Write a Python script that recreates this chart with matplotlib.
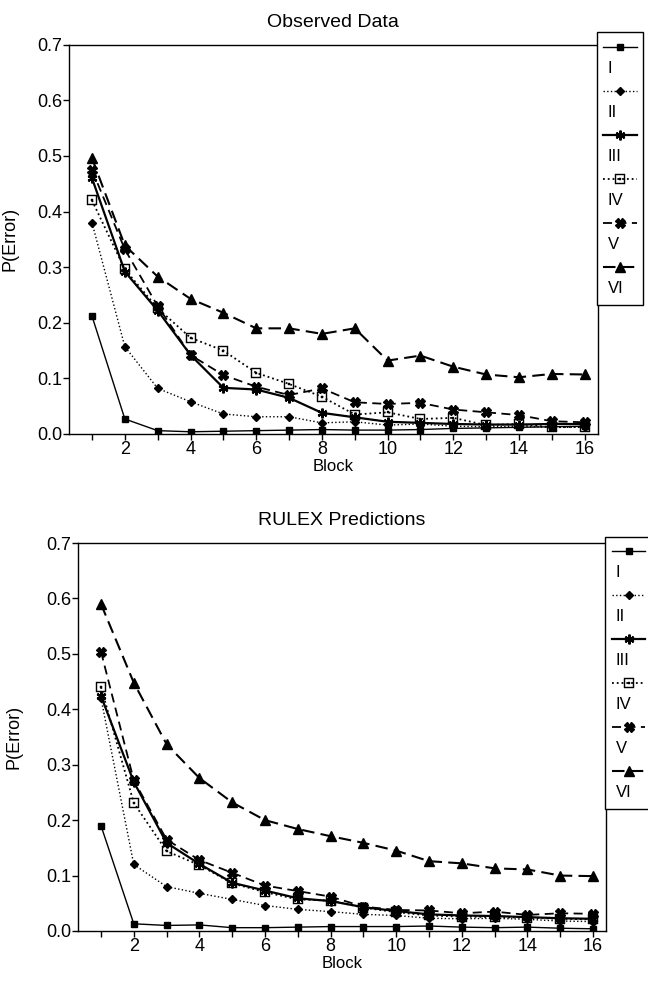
import numpy as np
import matplotlib
matplotlib.use('Agg')
import matplotlib.pyplot as plt
from matplotlib.legend_handler import HandlerLine2D
from matplotlib.text import Text

plt.rcParams['font.family'] = ['Liberation Sans', 'DejaVu Sans']

blocks = np.arange(1, 17)
names = ['I', 'II', 'III', 'IV', 'V', 'VI']

# Observed Data (P(Error) per block)
obs_I = [0.212, 0.027, 0.006, 0.004, 0.005, 0.006, 0.007, 0.008, 0.007, 0.007, 0.008, 0.010, 0.011, 0.012, 0.013, 0.014]
obs_II = [0.380, 0.157, 0.082, 0.058, 0.036, 0.031, 0.031, 0.020, 0.022, 0.016, 0.018, 0.014, 0.013, 0.014, 0.012, 0.012]
obs_III = [0.460, 0.292, 0.222, 0.142, 0.083, 0.080, 0.065, 0.038, 0.030, 0.022, 0.020, 0.018, 0.017, 0.017, 0.018, 0.018]
obs_IV = [0.420, 0.296, 0.226, 0.173, 0.150, 0.110, 0.090, 0.067, 0.035, 0.039, 0.027, 0.029, 0.016, 0.018, 0.012, 0.013]
obs_V = [0.475, 0.332, 0.230, 0.142, 0.106, 0.085, 0.070, 0.082, 0.057, 0.054, 0.056, 0.044, 0.039, 0.034, 0.023, 0.021]
obs_VI = [0.496, 0.339, 0.283, 0.243, 0.218, 0.190, 0.190, 0.180, 0.190, 0.132, 0.141, 0.121, 0.107, 0.102, 0.108, 0.107]

# RULEX Predictions
rul_I = [0.190, 0.013, 0.010, 0.011, 0.006, 0.006, 0.007, 0.008, 0.008, 0.008, 0.009, 0.007, 0.006, 0.007, 0.005, 0.004]
rul_II = [0.420, 0.120, 0.080, 0.068, 0.057, 0.046, 0.039, 0.035, 0.030, 0.028, 0.023, 0.022, 0.023, 0.021, 0.018, 0.017]
rul_III = [0.424, 0.269, 0.159, 0.121, 0.087, 0.073, 0.059, 0.054, 0.043, 0.036, 0.030, 0.028, 0.027, 0.025, 0.023, 0.022]
rul_IV = [0.440, 0.231, 0.144, 0.119, 0.086, 0.070, 0.057, 0.055, 0.042, 0.034, 0.028, 0.026, 0.025, 0.024, 0.022, 0.021]
rul_V = [0.504, 0.272, 0.165, 0.128, 0.105, 0.082, 0.072, 0.062, 0.044, 0.038, 0.037, 0.032, 0.035, 0.029, 0.032, 0.031]
rul_VI = [0.590, 0.448, 0.337, 0.276, 0.232, 0.200, 0.184, 0.171, 0.159, 0.145, 0.126, 0.122, 0.113, 0.111, 0.100, 0.099]

styles = [
    dict(ls='-', lw=1.0, marker='s', ms=5, mfc='black'),
    dict(ls=':', lw=1.0, marker='D', ms=4, mfc='black'),
    dict(ls='-', lw=1.6, marker=(6, 2, 0), ms=7, mew=1.6),
    dict(ls=':', lw=1.3, marker='$\\boxdot$', ms=7, mew=0.3),
    dict(ls=(0, (5, 3)), lw=1.3, marker='X', ms=7, mfc='black'),
    dict(ls=(0, (6, 3)), lw=1.5, marker='^', ms=7, mfc='black'),
]


class StackedKey(HandlerLine2D):
    # sample line on top, roman numeral underneath
    def create_artists(self, legend, orig_handle, xdescent, ydescent,
                       width, height, fontsize, trans):
        arts = super().create_artists(legend, orig_handle, xdescent, ydescent,
                                      width, height, fontsize, trans)
        for a in arts:
            a.set_ydata(np.full(len(a.get_xdata()), -ydescent + 0.80 * height))
        lab = Text(-xdescent + 0.12 * width, -ydescent + 0.25 * height,
                   orig_handle.get_label(), fontsize=fontsize,
                   ha='left', va='center', transform=trans)
        return arts + [lab]


def draw_panel(ax, series, title, ylab_x):
    lines = []
    for vals, name, st in zip(series, names, styles):
        ln, = ax.plot(blocks, vals, color='black', label=name, **st)
        lines.append(ln)
    ax.set_xlim(0.3, 16.4)
    ax.set_ylim(0, 0.7)
    ax.set_xticks(np.arange(2, 17, 2))
    ax.set_xticks(np.arange(1, 17, 2), minor=True)
    ax.set_yticks(np.arange(0, 0.71, 0.1))
    ax.set_yticklabels(['%.1f' % v for v in np.arange(0, 0.71, 0.1)])
    ax.tick_params(which='both', direction='out', length=4, width=1, labelsize=13, pad=1)
    ax.set_xlabel('Block', fontsize=12, labelpad=1)
    ax.set_ylabel('P(Error)', fontsize=13)
    ax.yaxis.set_label_coords(ylab_x, 0.5)
    ax.set_title(title, fontsize=14, pad=13)
    for sp in ax.spines.values():
        sp.set_linewidth(1.0)
    return lines


def add_key(fig, ax, lines, anchor):
    leg = ax.legend(lines, [''] * len(lines), loc='upper left',
                    bbox_to_anchor=anchor, bbox_transform=fig.transFigure,
                    handler_map={ln: StackedKey() for ln in lines},
                    fontsize=12, handlelength=2.0, handleheight=3.25,
                    handletextpad=0, labelspacing=0.28, borderpad=0.4,
                    borderaxespad=0, fancybox=False, edgecolor='black',
                    framealpha=1)
    leg.get_frame().set_linewidth(1.0)


fig = plt.figure(figsize=(6.48, 9.83), dpi=100)

ax1 = fig.add_axes([0.1065, 0.5585, 0.816, 0.396])
l1 = draw_panel(ax1, [obs_I, obs_II, obs_III, obs_IV, obs_V, obs_VI], 'Observed Data', -0.095)
add_key(fig, ax1, l1, (0.921, 0.967))

ax2 = fig.add_axes([0.1204, 0.0529, 0.815, 0.3947])
l2 = draw_panel(ax2, [rul_I, rul_II, rul_III, rul_IV, rul_V, rul_VI], 'RULEX Predictions', -0.105)
add_key(fig, ax2, l2, (0.934, 0.454))

fig.savefig('out.png', dpi=100)
